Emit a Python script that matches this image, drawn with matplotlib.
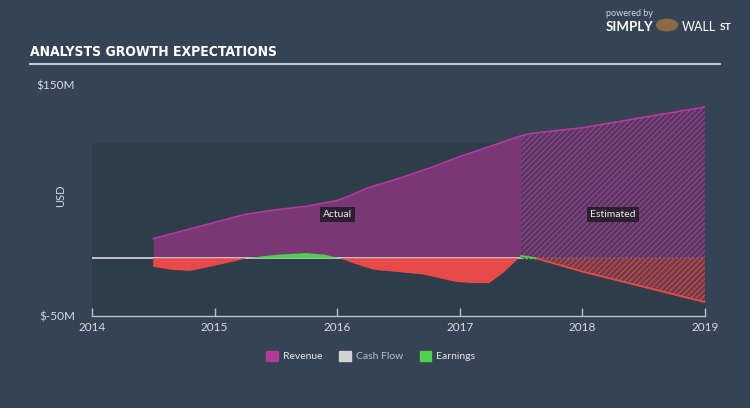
import numpy as np
import matplotlib
matplotlib.use("Agg")
import matplotlib.pyplot as plt
from matplotlib.patches import Patch

# Revenue (USD millions) - actual and estimated
rev_x = [2014.5, 2014.75, 2015.0, 2015.25, 2015.5, 2015.75, 2016.0, 2016.1, 2016.25,
         2016.5, 2016.75, 2017.0, 2017.25, 2017.5]
rev_y = [17, 24, 31, 38, 42, 45, 50, 54, 61, 69, 78, 88, 97, 106]
rev_est_x = [2017.5, 2017.58, 2018.0, 2019.0]
rev_est_y = [106, 108, 113, 131]

# Earnings (USD millions) - actual and estimated
earn_x = [2014.5, 2014.65, 2014.8, 2015.0, 2015.15, 2015.26, 2015.5, 2015.75, 2015.9,
          2016.02, 2016.15, 2016.3, 2016.5, 2016.7, 2016.97, 2017.1, 2017.24, 2017.35,
          2017.43, 2017.5]
earn_y = [-7.5, -10, -11, -6.5, -3, 0, 3, 4.5, 3, 0, -5, -10, -12, -14, -20.5, -21.5,
          -21.5, -13, -5, 2]
earn_est_x = [2017.5, 2017.62, 2018.0, 2019.0]
earn_est_y = [2, 0, -11.5, -38]

years = [2014, 2015, 2016, 2017, 2018, 2019]

BG = "#354354"
BAND = "#2f3c4a"
REV_FILL = "#7a3776"
REV_LINE = "#b33a9e"
RED = "#e84a4a"
GREEN = "#4fd04e"
TXT = "#d6dce2"

plt.rcParams['font.family'] = ['Lato', 'DejaVu Sans']
plt.rcParams['hatch.linewidth'] = 0.8

fig = plt.figure(figsize=(7.5, 4.08), dpi=100, facecolor=BG)
ax = fig.add_axes([92/750, 1-316/408, 613/750, 231/408])
ax.set_facecolor(BG)
ax.set_xlim(2014, 2019)
ax.set_ylim(-50, 150)

ax.axhspan(-50, 100, color=BAND, zorder=0, lw=0)

# actual revenue
ax.fill_between(rev_x, 0, rev_y, color=REV_FILL, lw=0, zorder=2)
ax.plot(rev_x, rev_y, color=REV_LINE, lw=1.2, zorder=3)

# estimated revenue (hatched)
ax.fill_between(rev_est_x, 0, rev_est_y, facecolor="#5c3462", edgecolor="#8a4a8a",
                hatch="//////", lw=0, zorder=2)
ax.plot(rev_est_x, rev_est_y, color=REV_LINE, lw=1.2, zorder=3)

# zero line
ax.plot([2014, 2017.5], [0, 0], color="#c9ced6", lw=1.3, zorder=3)
ax.plot([2017.5, 2019], [0, 0], color="#d9b8cc", lw=1.0, ls=(0, (1.5, 1.5)), zorder=3)

# actual earnings
ex = np.array(earn_x)
ey = np.array(earn_y)
ax.fill_between(ex, 0, ey, where=ey <= 0, interpolate=True, color=RED, lw=0, zorder=4)
ax.fill_between(ex, 0, ey, where=ey >= 0, interpolate=True, color=GREEN, lw=0, zorder=4)

# estimated earnings
eex = np.array(earn_est_x)
eey = np.array(earn_est_y)
ax.fill_between(eex, 0, eey, where=eey <= 0, interpolate=True, facecolor="#703c48",
                edgecolor="#c84a52", hatch="//////", lw=0, zorder=4)
ax.fill_between(eex, 0, eey, where=eey >= 0, interpolate=True, facecolor="#3f6a45",
                edgecolor=GREEN, hatch="//////", lw=0, zorder=4)
ax.plot(eex[1:], eey[1:], color=RED, lw=1.3, zorder=5)
ax.plot(eex[:2], eey[:2], color=GREEN, lw=1.3, zorder=5)

# labels on the chart
box = dict(boxstyle="square,pad=0.3", fc="#2b1f31", ec="none")
ax.text(2016.0, 38, "Actual", color="#eeeeee", fontsize=7.5, ha="center", va="center",
        bbox=box, zorder=6)
ax.text(2018.25, 38, "Estimated", color="#eeeeee", fontsize=7.5, ha="center", va="center",
        bbox=box, zorder=6)

# axes styling
for s in ["top", "right", "left"]:
    ax.spines[s].set_visible(False)
ax.spines["bottom"].set_color("#b8c2cc")
ax.spines["bottom"].set_linewidth(1.0)
ax.set_xticks(years)
ax.set_xticklabels([str(y) for y in years])
ax.tick_params(axis="x", colors="#b8c2cc", direction="in", length=6, width=1,
               labelcolor=TXT, labelsize=8.5, pad=4)
ax.set_yticks([150, -50])
ax.set_yticklabels(["$150M", "$-50M"])
ax.tick_params(axis="y", length=0, labelcolor=TXT, labelsize=8.5, pad=12)
ax.set_ylabel("USD", color=TXT, fontsize=8, labelpad=14)
ax.yaxis.set_label_coords(-0.043, 0.52)

# title and rule
fig.text(30/750, 1-52/408, "ANALYSTS GROWTH EXPECTATIONS", color="white", fontsize=10,
         fontweight="bold", fontstretch="condensed", family=["DejaVu Sans"], va="center")
fig.add_artist(plt.Line2D([30/750, 720/750], [1-64/408, 1-64/408], color="#c9dce6",
                          lw=1.3, transform=fig.transFigure))

# logo text
fig.text(606/750, 1-14/408, "powered by", color="#d0d6dc", fontsize=6.5, va="center")
fig.text(606/750, 1-27/408, "SIMPLY", color="white", fontsize=9.5, fontweight="bold",
         va="center")
fig.add_artist(plt.Circle((667/750, 1-25/408), 0.014, transform=fig.transFigure,
                          color="#8a6a45"))
fig.text(682/750, 1-27/408, "WALL", color="white", fontsize=9, va="center")
fig.text(720/750, 1-27/408, "ST", color="white", fontsize=7.5, fontweight="bold",
         va="center")

# legend
handles = [Patch(color="#b23a9a"), Patch(color="#d2d2d2"), Patch(color=GREEN)]
leg = fig.legend(handles, ["Revenue", "Cash Flow", "Earnings"], loc="center",
                 bbox_to_anchor=(371/750, 1-356/408), ncol=3, frameon=False,
                 fontsize=7.5, handlelength=1.1, handleheight=1.1, handletextpad=0.5,
                 columnspacing=1.6)
for t, c in zip(leg.get_texts(), ["#e6e6e6", "#b8bfc6", "#e6e6e6"]):
    t.set_color(c)

fig.savefig("out.png", dpi=100, facecolor=BG)
